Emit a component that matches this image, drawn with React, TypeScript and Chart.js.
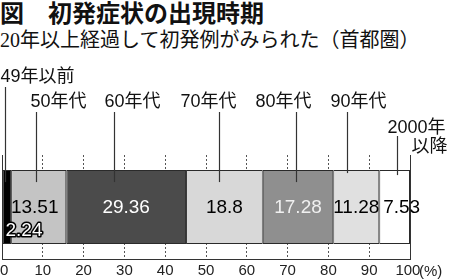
import React, { useEffect, useRef } from "react";
import { Chart, registerables } from "chart.js";

Chart.register(...registerables);

// ---- data ----
const TITLE = "図　初発症状の出現時期";
const SUBTITLE = "20年以上経過して初発例がみられた（首都圏）";
const periods = ["49年以前", "50年代", "60年代", "70年代", "80年代", "90年代", "2000年\n以降"];
const shares = [2.24, 13.51, 29.36, 18.8, 17.28, 11.28, 7.53];
const valueLabels = ["2.24", "13.51", "29.36", "18.8", "17.28", "11.28", "7.53"];
const xTickValues = [0, 10, 20, 30, 40, 50, 60, 70, 80, 90, 100];
const unitLabel = "(%)";

// ---- styles ----
const FONT = '"Liberation Sans", "Noto Sans CJK JP", sans-serif';
const fills = ["#000000", "#c4c4c4", "#4b4b4b", "#d8d8d8", "#8f8f8f", "#e0e0e0", "#ffffff"];
const valueColors = ["#ffffff", "#000000", "#ffffff", "#000000", "#f0f0f0", "#000000", "#000000"];
const leaderFrac = [0.33, 0.45, 0.4, 0.43, 0.47, 0.3, 0.58];
const labelDx = [-5, -6, -10, -39, -41, -17, -10];
const labelY = [77, 102, 102, 102, 102, 102, 128];
const leaderTop = [87, 112, 112, 112, 112, 112, 136];
const leaderDepth = [12, 12, 12, 12, 12, 3, 5];
const valueDx = [0, -4, 0, 0, 0, 0, 7];

const annotate = {
  id: "annotate",
  afterDatasetsDraw(chart: any) {
    const ctx = chart.ctx;
    ctx.save();
    chart.data.datasets.forEach((ds: any, i: number) => {
      const meta = chart.getDatasetMeta(i);
      const el = meta.data[0];
      if (!el) return;
      const { x, y, base, height } = el.getProps(["x", "y", "base", "height"], true);
      const left = Math.min(x, base);
      const right = Math.max(x, base);
      const top = y - height / 2;
      const bottom = y + height / 2;
      const lx = Math.round(left + leaderFrac[i] * (right - left)) + 0.5;

      // leader line
      ctx.strokeStyle = "#333";
      ctx.lineWidth = 1.2;
      ctx.beginPath();
      ctx.moveTo(lx, leaderTop[i]);
      ctx.lineTo(lx, top + leaderDepth[i]);
      ctx.stroke();

      // period label
      ctx.font = `18px ${FONT}`;
      ctx.fillStyle = "#111";
      ctx.textBaseline = "middle";
      const lines = String(periods[i]).split("\n");
      ctx.textAlign = "left";
      ctx.fillText(lines[0], lx + labelDx[i], labelY[i]);
      if (lines[1]) {
        ctx.textAlign = "right";
        ctx.fillText(lines[1], lx + 50, labelY[i] + 19);
      }

      // value label
      ctx.font = `19px ${FONT}`;
      if (i === 0) {
        ctx.textAlign = "left";
        ctx.lineWidth = 3;
        ctx.lineJoin = "round";
        ctx.strokeStyle = "#000";
        ctx.strokeText(valueLabels[i], left + 3, bottom - 13);
        ctx.fillStyle = valueColors[i];
        ctx.fillText(valueLabels[i], left + 3, bottom - 13);
      } else {
        ctx.textAlign = "center";
        ctx.fillStyle = valueColors[i];
        ctx.fillText(valueLabels[i], (left + right) / 2 + valueDx[i], y + 1);
      }
    });

    // unit label next to last tick
    const xs = chart.scales.x;
    ctx.font = `15px ${FONT}`;
    ctx.fillStyle = "#222";
    ctx.textAlign = "left";
    ctx.textBaseline = "middle";
    ctx.fillText(unitLabel, xs.getPixelForValue(100) + 9, 272);
    ctx.restore();
  },
};

export default function App() {
  const ref = useRef<HTMLCanvasElement | null>(null);

  useEffect(() => {
    if (!ref.current) return;
    const chart = new Chart(ref.current, {
      type: "bar",
      data: {
        labels: ["全体"],
        datasets: shares.map((v, i) => ({
          label: periods[i],
          data: [v],
          backgroundColor: fills[i],
          borderColor: "#2a2a2a",
          borderWidth: 1,
          borderSkipped: false,
          barPercentage: 0.71,
          categoryPercentage: 1,
        })),
      },
      options: {
        indexAxis: "y",
        responsive: false,
        animation: false,
        devicePixelRatio: 1,
        layout: { padding: { left: 2, right: 40, top: 155, bottom: 0 } },
        plugins: { legend: { display: false }, tooltip: { enabled: false }, title: { display: false } },
        scales: {
          x: {
            stacked: true,
            min: 0,
            max: 100,
            afterFit: (s: any) => {
              s.paddingLeft = 0;
              s.paddingRight = 0;
              s.height = 20;
            },
            afterBuildTicks: (s: any) => {
              s.ticks = xTickValues.map((v) => ({ value: v }));
            },
            ticks: {
              autoSkip: false,
              maxRotation: 0,
              padding: 3,
              color: "#222",
              font: { family: FONT, size: 15 },
              callback: (v: any) => (v === 0 ? " 0" : v === 100 ? "100 " : String(v)),
            },
            grid: {
              drawTicks: false,
              color: (c: any) =>
                c.tick && (c.tick.value === 0 || c.tick.value === 100) ? "#333" : "#555",
              lineWidth: 1,
            },
            border: {
              display: true,
              color: "#333",
              width: 1,
              dash: (c: any) =>
                c.tick && (c.tick.value === 0 || c.tick.value === 100) ? [] : [2, 2],
            },
          },
          y: {
            stacked: true,
            display: false,
          },
        },
      },
      plugins: [annotate],
    });
    return () => chart.destroy();
  }, []);

  return (
    <div style={{ position: "absolute", left: 0, top: 0, width: 450, height: 279, background: "#fff" }}>
      <div
        style={{
          position: "absolute",
          left: 0,
          top: 0,
          font: `bold 24px "Noto Sans CJK JP", sans-serif`,
          lineHeight: "24px",
          whiteSpace: "nowrap",
          color: "#111",
        }}
      >
        {TITLE}
      </div>
      <div
        style={{
          position: "absolute",
          left: 0,
          top: 30,
          font: `20px "Liberation Serif", "Noto Sans CJK JP", serif`,
          lineHeight: "21px",
          whiteSpace: "nowrap",
          color: "#111",
        }}
      >
        {SUBTITLE}
      </div>
      <canvas ref={ref} width={450} height={279} style={{ position: "absolute", left: 0, top: 0 }} />
    </div>
  );
}
